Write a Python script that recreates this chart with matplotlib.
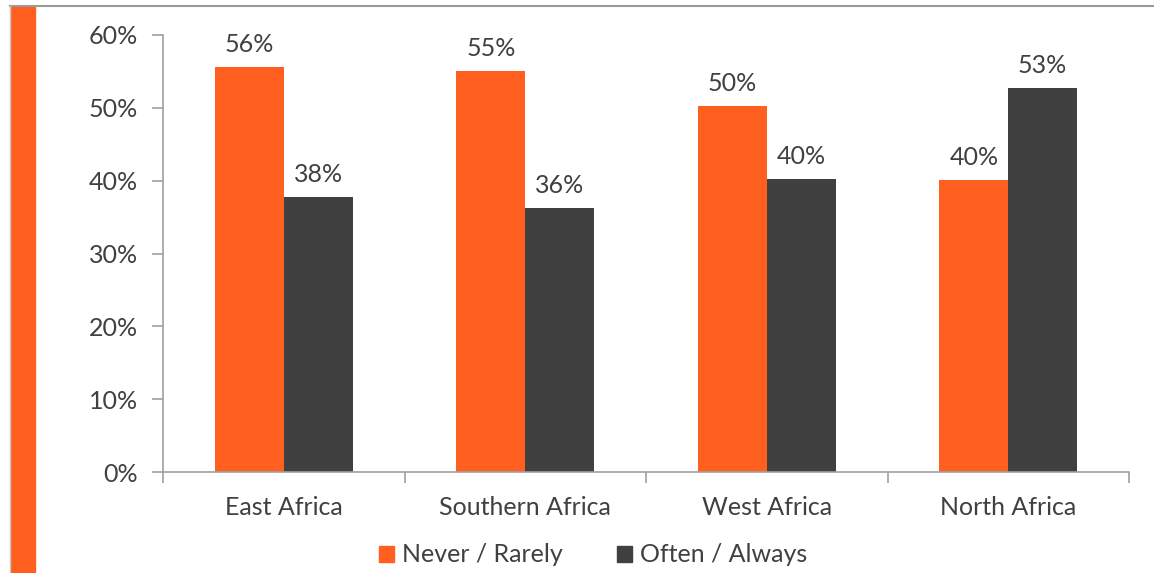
import matplotlib.pyplot as plt
import numpy as np
from matplotlib.patches import Rectangle
from matplotlib.lines import Line2D

regions = ["East Africa", "Southern Africa", "West Africa", "North Africa"]
never_rarely = [55.6, 55.0, 50.2, 40.1]
often_always = [37.7, 36.3, 40.2, 52.7]
series_names = ["Never / Rarely", "Often / Always"]
y_ticks = [0, 10, 20, 30, 40, 50, 60]

ORANGE = "#FF5F1F"
DARK = "#404040"
TEXT = "#404040"
AXIS = "#A0A0A0"

plt.rcParams["font.family"] = ["Lato", "DejaVu Sans"]

W, H = 1154, 573
fig = plt.figure(figsize=(W / 100, H / 100), dpi=100)
fig.patch.set_facecolor("white")

# panel frame: grey top rule and orange side stripe
fig.add_artist(Line2D([10 / W, 1], [1 - 6 / H, 1 - 6 / H], color="#9A9A9A", lw=1.5,
                      transform=fig.transFigure))
fig.add_artist(Line2D([10 / W, 10 / W], [0, 1 - 6 / H], color="#C8C8C8", lw=1,
                      transform=fig.transFigure))
fig.add_artist(Rectangle((11 / W, 0), 24 / W, 1 - 7 / H, color=ORANGE,
                         transform=fig.transFigure))

left, right = 163 / W, 1129 / W
bottom, top = 1 - 472 / H, 1 - 35 / H
ax = fig.add_axes([left, bottom, right - left, top - bottom])

x = np.arange(len(regions))
bw = 0.285
b1 = ax.bar(x - bw / 2, never_rarely, bw, color=ORANGE, label=series_names[0], zorder=2)
b2 = ax.bar(x + bw / 2, often_always, bw, color=DARK, label=series_names[1], zorder=2)

for bars, vals in ((b1, never_rarely), (b2, often_always)):
    for rect, v in zip(bars, vals):
        ax.annotate(f"{v:.0f}%", (rect.get_x() + rect.get_width() / 2, v),
                    xytext=(0, 8), textcoords="offset points", ha="center",
                    va="bottom", fontsize=18, color=TEXT)

ax.set_xlim(-0.5, len(regions) - 0.5)
ax.set_ylim(0, 60)
ax.set_yticks(y_ticks)
ax.set_yticklabels([f"{t}%" for t in y_ticks])

ax.set_xticks(x)
ax.set_xticklabels(regions)
ax.set_xticks(np.arange(len(regions) + 1) - 0.5, minor=True)
ax.tick_params(axis="x", which="major", length=0, pad=17, labelsize=18, labelcolor=TEXT)
ax.tick_params(axis="x", which="minor", length=8, color=AXIS, width=1.2, direction="out")
ax.tick_params(axis="y", length=8, color=AXIS, width=1.2, pad=10, labelsize=18,
               labelcolor=TEXT)

for s in ("top", "right"):
    ax.spines[s].set_visible(False)
for s in ("left", "bottom"):
    ax.spines[s].set_color(AXIS)
    ax.spines[s].set_linewidth(1.2)

leg = fig.legend(handles=[Rectangle((0, 0), 1, 1, color=ORANGE),
                          Rectangle((0, 0), 1, 1, color=DARK)],
                 labels=series_names, loc="center", bbox_to_anchor=(593 / W, 1 - 555 / H),
                 ncol=2, frameon=False, fontsize=18, handlelength=0.6, handleheight=0.6,
                 handletextpad=0.3, columnspacing=2.2)
for t in leg.get_texts():
    t.set_color(TEXT)

fig.savefig("out.png", dpi=100, facecolor="white")
